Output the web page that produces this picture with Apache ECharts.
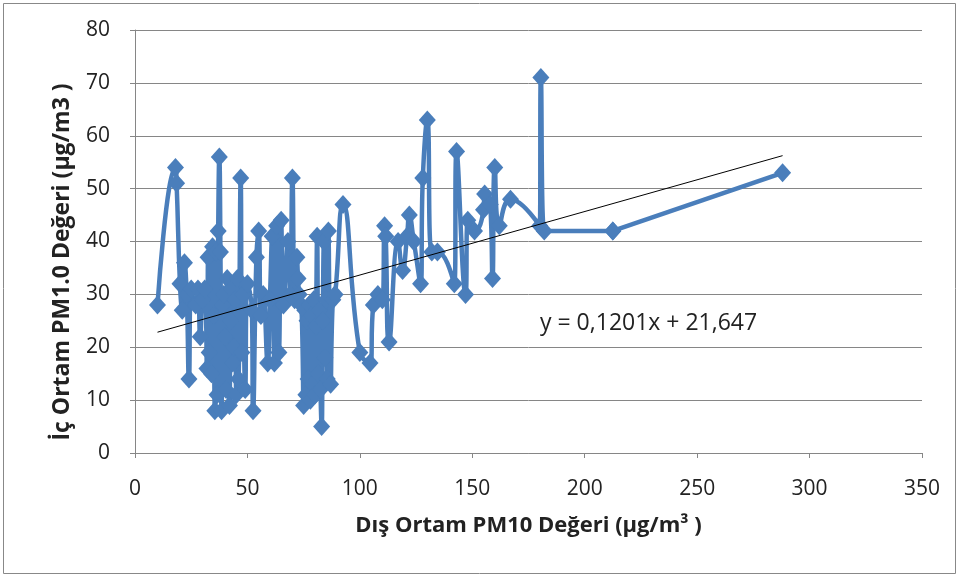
<!DOCTYPE html>
<html><head><meta charset="utf-8">
<script src="https://cdn.jsdelivr.net/npm/echarts@6/dist/echarts.min.js"></script>
<style>html,body{margin:0;padding:0;background:#fff}#c{width:960px;height:578px}</style>
</head><body><div id="c"></div>
<script>
const outdoorPM10 = [10,18,18.5,20,21,22,23,24,25,27,28,29,30,31,32,32.5,33,34,34.5,35,35.5,36,36.5,37,37.5,38,38.5,39,39.5,40,40.5,41,42,42.5,43,43.5,44,44.5,45,45.5,46,47,47.5,48,49,50,52,52.5,54,55,56,57,59,60,61,62,63,64,65,66,68,69,70,71,72,72.5,73,74,75,75.5,76,76.5,77,77.5,78,78.5,79,79.5,80,80.5,81,81.5,82,82.5,83,83.5,84,84.5,85,85.5,86,87,88,89,92.5,100,104.5,106,108,110,111,111.5,113,117,119,121,122,124,127,128,130,132,134.5,142,143,147,148,151,155,155.5,158,159,160,162,167,180,180.5,182,212.5,288];
const indoorPM1 = [28,54,51,32,27,36,30,14,31,28,31,22,29,31,16,37,19,15,39,26,8,38,11,42,56,38,8,28,30,22,12,33,9,25,31,17,20,29,11,33,14,52,19,30,12,32,27,8,37,42,26,30,17,29,41,17,43,19,44,28,40,30,52,29,37,33,30,28,9,27,11,25,14,28,10,26,13,29,11,24,41,15,27,12,5,25,40,18,29,14,42,13,29,30,47,19,17,28,30,29,43,41,21,40,34.5,41,45,40,32,52,63,38,38,32,57,30,44,42,46,49,47,33,54,43,48,43,71,42,42,53];
const trendSlope = 0.1201, trendIntercept = 21.647;
const trendLabel = 'y = 0,1201x + 21,647';
const xTicks = [0,50,100,150,200,250,300,350];
const yTicks = [0,10,20,30,40,50,60,70,80];

const pts = outdoorPM10.map((x,i)=>[x, indoorPM1[i]]);
const n = pts.length;
const xMin = Math.min(...outdoorPM10), xMax = Math.max(...outdoorPM10);
const trend = [[xMin, trendSlope*xMin+trendIntercept],[xMax, trendSlope*xMax+trendIntercept]];

const chart = echarts.init(document.getElementById('c'));
const font = 'Open Sans';
const blue = '#4A7EBB';
chart.setOption({
  animation:false,
  grid:{left:135,right:38,top:30,bottom:125},
  xAxis:{type:'value',min:xTicks[0],max:xTicks[xTicks.length-1],interval:xTicks[1]-xTicks[0],
    axisLine:{lineStyle:{color:'#868686'}},
    axisTick:{show:true,length:5,lineStyle:{color:'#868686'}},
    splitLine:{show:false},
    axisLabel:{color:'#222',fontSize:21,fontFamily:font,margin:26},
    name:'Dış Ortam PM10 Değeri (µg/m³ )',nameLocation:'middle',nameGap:62,
    nameTextStyle:{color:'#222',fontSize:22,fontWeight:'bold',fontFamily:font}},
  yAxis:{type:'value',min:yTicks[0],max:yTicks[yTicks.length-1],interval:yTicks[1]-yTicks[0],
    axisLine:{show:true,lineStyle:{color:'#868686'}},
    axisTick:{show:true,length:5,lineStyle:{color:'#868686'}},
    splitLine:{lineStyle:{color:'#868686'}},
    axisLabel:{color:'#222',fontSize:21,fontFamily:font,margin:25}},
  graphic:[
    {type:'rect',shape:{x:3.5,y:3.5,width:952,height:570},style:{fill:'none',stroke:'#888',lineWidth:1},z:-1},
    {type:'text',x:62,y:262,rotation:Math.PI/2,style:{text:'İç Ortam PM1.0 Değeri (µg/m3 )',fill:'#222',fontSize:23,fontWeight:'bold',fontFamily:font,textAlign:'center',textVerticalAlign:'middle'}},
    {type:'text',x:540,y:323,style:{text:trendLabel,fill:'#222',fontSize:23,fontFamily:font,textVerticalAlign:'middle'}}
  ],
  series:[
    {type:'line',data:pts.slice(0,n-1),smooth:0.5,symbol:'diamond',symbolSize:[17,19],
      lineStyle:{color:blue,width:4.5},itemStyle:{color:blue},z:2},
    {type:'line',data:pts.slice(n-2),smooth:false,symbol:'diamond',symbolSize:[17,19],
      lineStyle:{color:blue,width:4.5},itemStyle:{color:blue},z:2},
    {type:'line',data:trend,symbol:'none',lineStyle:{color:'#000',width:1},z:3}
  ]
});
</script></body></html>
